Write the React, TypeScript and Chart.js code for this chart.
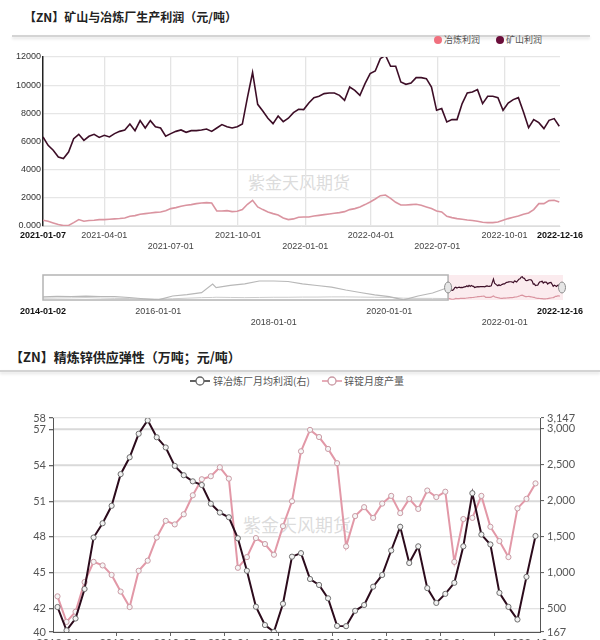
import React, { useEffect, useRef } from 'react';
import { Chart, registerables } from 'chart.js';

Chart.register(...registerables);

// ---------- Top chart: 矿山与冶炼厂生产利润 (weekly samples) ----------
const TOP_START = '2021-01-07';
const TOP_END = '2022-12-16';
const SAMPLE_STEP_DAYS = 7;
const topTickDates = ['2021-01-07', '2021-04-01', '2021-07-01', '2021-10-01', '2022-01-01', '2022-04-01', '2022-07-01', '2022-10-01', '2022-12-16'];
const topTickSecondRow = ['2021-07-01', '2022-01-01', '2022-07-01'];
const topYTicks = [0, 2000, 4000, 6000, 8000, 10000, 12000];

const mineProfit = [
  6320, 5730, 5375, 4900, 4790, 5250, 6200, 6510, 6085, 6370,
  6510, 6290, 6440, 6320, 6560, 6720, 6820, 7240, 6770, 7480,
  6960, 7480, 7050, 6960, 6370, 6560, 6720, 6820, 6650, 6770,
  6770, 6820, 6890, 6720, 6960, 7200, 7050, 6960, 7050, 7240,
  9130, 10900, 8640, 8170, 7650, 7270, 7810, 7410, 7650, 8050,
  8290, 8265, 8730, 9115, 9210, 9400, 9445, 9445, 9280, 8925,
  9870, 9635, 9280, 10110, 10820, 11005, 11885, 12120, 11340, 11340,
  10225, 10060, 10155, 10535, 10535, 10465, 9870, 8215, 8335, 7385,
  7555, 7555, 8690, 9445, 9515, 9685, 8690, 9210, 9210, 9115,
  8215, 8730, 8975, 9115, 8095, 6985, 7555, 7340, 6915, 7505,
  7625, 7080,
];
const smelterProfit = [
  405, 335, 215, 100, 30, 40, 240, 455, 335, 390,
  405, 455, 455, 480, 505, 528, 570, 690, 735, 830,
  880, 925, 970, 995, 1090, 1235, 1305, 1400, 1470, 1520,
  1590, 1635, 1660, 1635, 1065, 1065, 1090, 1020, 1045, 1165,
  1540, 1825, 1350, 1165, 995, 880, 785, 570, 455, 505,
  620, 640, 640, 710, 755, 805, 855, 900, 950, 1020,
  1165, 1235, 1350, 1520, 1705, 1920, 2155, 2200, 1965, 1685,
  1490, 1490, 1520, 1540, 1470, 1350, 1235, 1065, 995, 690,
  595, 525, 480, 430, 390, 335, 265, 240, 240, 285,
  405, 525, 620, 710, 830, 925, 1165, 1590, 1590, 1800,
  1825, 1700,
];

// ---------- Navigator (2014 - 2022) ----------
const NAV_START = '2014-01-02';
const navTickDates = ['2014-01-02', '2016-01-01', '2018-01-01', '2020-01-01', '2022-01-01', '2022-12-16'];
const navTickSecondRow = ['2018-01-01', '2022-01-01'];
const navHistDates = [
  '2014-01-02', '2014-04-01', '2014-07-01', '2014-10-01', '2015-01-01', '2015-04-01', '2015-07-01', '2015-10-01',
  '2016-01-01', '2016-04-01', '2016-07-01', '2016-10-01', '2016-12-10', '2017-01-01', '2017-04-01', '2017-07-01',
  '2017-10-01', '2018-01-01', '2018-04-01', '2018-07-01', '2018-10-01', '2019-01-01', '2019-04-01', '2019-07-01',
  '2019-10-01', '2020-01-01', '2020-04-01', '2020-07-01', '2020-10-01', '2021-01-07',
];
const navHistMine = [
  1350, 1600, 1500, 1700, 1500, 1400, 970, 300,
  -350, 1780, 2530, 3550, 8240, 6240, 7480, 8340,
  9850, 9850, 9580, 8340, 7430, 6510, 5000, 3660,
  2420, 1400, -350, 1780, 3390, 6320,
];
const navHistSmelter = [
  600, 700, 800, 900, 700, 500, 400, 200,
  100, 300, 600, 900, 1000, 1100, 1000, 900,
  1000, 1100, 1100, 1200, 1200, 1300, 1300, 1200,
  1100, 1000, 600, 500, 500, 405,
];

// ---------- Bottom chart: 精炼锌供应弹性 (monthly) ----------
const months = [
  '2018-06', '2018-07', '2018-08', '2018-09', '2018-10', '2018-11', '2018-12',
  '2019-01', '2019-02', '2019-03', '2019-04', '2019-05', '2019-06', '2019-07', '2019-08', '2019-09', '2019-10', '2019-11', '2019-12',
  '2020-01', '2020-02', '2020-03', '2020-04', '2020-05', '2020-06', '2020-07', '2020-08', '2020-09', '2020-10', '2020-11', '2020-12',
  '2021-01', '2021-02', '2021-03', '2021-04', '2021-05', '2021-06', '2021-07', '2021-08', '2021-09', '2021-10', '2021-11', '2021-12',
  '2022-01', '2022-02', '2022-03', '2022-04', '2022-05', '2022-06', '2022-07', '2022-08', '2022-09', '2022-10', '2022-11',
];
const smelterMonthlyProfit = [
  515, 190, 355, 766, 1483, 1681, 1924,
  2365, 2600, 2927, 3115, 2879, 2737, 2480, 2350, 2265, 2214, 1953, 1830,
  1765, 1472, 1020, 519, 264, 170, 560, 1216, 1265, 905, 822, 636,
  252, 248, 462, 543, 798, 961, 1302, 1632, 1128, 1360, 778, 572,
  698, 852, 1360, 2100, 1524, 1386, 712, 517, 341, 935, 1504,
];
const zincOutput = [
  43.0, 40.85, 41.7, 44.2, 45.9, 45.6, 44.8,
  43.4, 42.1, 45.15, 46.0, 47.95, 49.35, 49.05, 49.9, 51.5, 52.85, 53.1, 53.85,
  52.9, 45.4, 46.3, 47.9, 47.4, 46.5, 48.9, 51.0, 55.2, 57.0, 56.4, 55.4,
  54.2, 47.2, 49.75, 50.5, 49.6, 50.8, 51.45, 50.0, 51.2, 50.35, 51.9, 51.35,
  51.8, 45.9, 49.5, 49.6, 51.45, 48.85, 47.65, 46.3, 50.4, 51.2, 52.5,
];
const monthTickLabels = ['2018-06', '2019-01', '2019-07', '2020-01', '2020-07', '2021-01', '2021-07', '2022-01', '2022-10'];
const monthTickMarks = ['2019-01', '2019-07', '2020-01', '2020-07', '2021-01', '2021-07', '2022-01', '2022-07'];
const leftTicks = [40, 42, 45, 48, 51, 54, 57, 58];
const rightTicks = [167, 500, 1000, 1500, 2000, 2500, 3000, 3147];

// ---------- helpers ----------
const DAY_MS = 86400000;
const dayDiff = (a: string, b: string) => Math.round((Date.parse(b) - Date.parse(a)) / DAY_MS);
const LAT = '"Liberation Sans", Arial, sans-serif';
const CJK = '"Noto Sans CJK SC", "Noto Sans", sans-serif';
const LATO = 'Lato, "Open Sans", sans-serif';

const MINE_COLOR = '#3d0e27';
const SMELT_COLOR = 'rgb(218,148,160)';

const weekly = (arr: number[], offset: number) => arr.map((v, k) => ({ x: offset + k * SAMPLE_STEP_DAYS, y: v }));

function topConfig(): any {
  const span = dayDiff(TOP_START, TOP_END);
  const tickDays = topTickDates.map((d) => dayDiff(TOP_START, d));
  const last = topTickDates.length - 1;
  return {
    type: 'line',
    data: {
      datasets: [
        { label: '矿山利润', data: weekly(mineProfit, 0), borderColor: MINE_COLOR, borderWidth: 1.6, pointRadius: 0, tension: 0 },
        { label: '冶炼利润', data: weekly(smelterProfit, 0), borderColor: SMELT_COLOR, borderWidth: 1.6, pointRadius: 0, tension: 0 },
      ],
    },
    options: {
      responsive: false,
      animation: false,
      layout: { padding: { left: 0, right: 40, top: 12, bottom: 0 } },
      plugins: { legend: { display: false }, tooltip: { enabled: false } },
      scales: {
        x: {
          type: 'linear',
          min: 0,
          max: span,
          afterBuildTicks: (s: any) => { s.ticks = tickDays.map((v) => ({ value: v })); },
          afterFit: (s: any) => { s.height = 34; },
          ticks: {
            autoSkip: false,
            maxRotation: 0,
            padding: 4.6,
            color: (c: any) => (c.index === 0 || c.index === last ? '#111' : '#444'),
            font: (c: any) => ({ family: LAT, size: 9, weight: c.index === 0 || c.index === last ? 'bold' : 'normal' }),
            callback: (_v: any, i: number) => {
              const label = topTickDates[i];
              return topTickSecondRow.includes(label) ? ['', label] : label;
            },
          },
          grid: {
            drawTicks: false,
            lineWidth: 1.3,
            color: (c: any) => (c.index === 0 || c.index === last ? 'rgba(0,0,0,0)' : '#e4e4e4'),
          },
          border: { display: true, color: '#dddddd', width: 1 },
        },
        y: {
          min: 0,
          max: 12000,
          afterBuildTicks: (s: any) => { s.ticks = topYTicks.map((v) => ({ value: v })); },
          afterFit: (s: any) => { s.width = 43; },
          ticks: {
            padding: 2,
            color: '#333',
            font: { family: LAT, size: 9 },
            callback: (v: any) => (v === 0 ? '0.000' : String(v)),
          },
          grid: { drawTicks: false, color: '#e6e6e6', lineWidth: 1.2 },
          border: { display: true, color: '#222', width: 1.5 },
        },
      },
    },
  };
}

function navConfig(): any {
  const span = dayDiff(NAV_START, TOP_END);
  const selStart = dayDiff(NAV_START, TOP_START);
  const tickDays = navTickDates.map((d) => dayDiff(NAV_START, d));
  const last = navTickDates.length - 1;
  const navPlugin = {
    id: 'navWindow',
    beforeDatasetsDraw(chart: any) {
      const { ctx, chartArea: a, scales } = chart;
      const sx = scales.x.getPixelForValue(selStart);
      ctx.save();
      ctx.fillStyle = 'rgba(249,226,231,0.7)';
      ctx.fillRect(sx, a.top, a.right + 3 - sx, a.bottom - a.top);
      ctx.restore();
    },
    afterDatasetsDraw(chart: any) {
      const { ctx, chartArea: a, scales } = chart;
      const sx = scales.x.getPixelForValue(selStart);
      ctx.save();
      ctx.strokeStyle = '#b4b4b4';
      ctx.lineWidth = 1.5;
      ctx.strokeRect(a.left, a.top, sx - a.left, a.bottom - a.top);
      const cy = (a.top + a.bottom) / 2;
      [sx, a.right + 2].forEach((hx) => {
        ctx.beginPath();
        ctx.ellipse(hx, cy, 3.5, 5.5, 0, 0, Math.PI * 2);
        ctx.fillStyle = '#e6e6e6';
        ctx.fill();
        ctx.strokeStyle = '#8a8a8a';
        ctx.lineWidth = 1;
        ctx.stroke();
      });
      ctx.restore();
    },
  };
  const hist = (arr: number[]) => arr.map((v, i) => ({ x: dayDiff(NAV_START, navHistDates[i]), y: v }));
  return {
    type: 'line',
    data: {
      datasets: [
        { data: hist(navHistMine), borderColor: '#b8b8b8', borderWidth: 1.2, pointRadius: 0 },
        { data: hist(navHistSmelter), borderColor: '#cccccc', borderWidth: 1, pointRadius: 0 },
        { data: weekly(mineProfit, selStart), borderColor: MINE_COLOR, borderWidth: 1.2, pointRadius: 0 },
        { data: weekly(smelterProfit, selStart), borderColor: SMELT_COLOR, borderWidth: 1.2, pointRadius: 0 },
      ],
    },
    options: {
      responsive: false,
      animation: false,
      layout: { padding: { left: 43, right: 40, top: 13, bottom: 0 } },
      plugins: { legend: { display: false }, tooltip: { enabled: false } },
      scales: {
        x: {
          type: 'linear',
          min: 0,
          max: span,
          afterBuildTicks: (s: any) => { s.ticks = tickDays.map((v) => ({ value: v })); },
          afterFit: (s: any) => { s.height = 32; },
          ticks: {
            autoSkip: false,
            maxRotation: 0,
            padding: 6.6,
            color: (c: any) => (c.index === 0 || c.index === last ? '#111' : '#444'),
            font: (c: any) => ({ family: LAT, size: 9, weight: c.index === 0 || c.index === last ? 'bold' : 'normal' }),
            callback: (_v: any, i: number) => {
              const label = navTickDates[i];
              return navTickSecondRow.includes(label) ? ['', label] : label;
            },
          },
          grid: { display: false, drawTicks: false },
          border: { display: false },
        },
        y: { display: false, min: -377, max: 13080 },
      },
    },
    plugins: [navPlugin],
  };
}

function bottomConfig(): any {
  const markIdx = monthTickMarks.map((m) => months.indexOf(m));
  return {
    type: 'line',
    data: {
      labels: months,
      datasets: [
        {
          label: '锌冶炼厂月均利润(右)',
          data: smelterMonthlyProfit,
          yAxisID: 'y1',
          borderColor: '#2c0b1c',
          borderWidth: 2,
          pointRadius: 2.6,
          pointBackgroundColor: '#f2f2f2',
          pointBorderColor: '#6e6e6e',
          pointBorderWidth: 1,
          tension: 0,
        },
        {
          label: '锌锭月度产量',
          data: zincOutput,
          yAxisID: 'y',
          borderColor: 'rgb(226,152,167)',
          borderWidth: 2,
          pointRadius: 2.6,
          pointBackgroundColor: '#f6f6f6',
          pointBorderColor: '#c99aa4',
          pointBorderWidth: 1,
          tension: 0,
        },
      ],
    },
    options: {
      responsive: false,
      animation: false,
      layout: { padding: { left: 0, right: 0, top: 18, bottom: 0 } },
      plugins: { legend: { display: false }, tooltip: { enabled: false } },
      scales: {
        x: {
          type: 'category',
          offset: true,
          afterFit: (s: any) => { s.height = 28; },
          ticks: {
            autoSkip: false,
            maxRotation: 0,
            padding: 1,
            color: '#555',
            font: { family: LATO, size: 11 },
            callback: (_v: any, i: number) => (monthTickLabels.includes(months[i]) ? months[i] : ''),
          },
          grid: {
            offset: true,
            drawOnChartArea: false,
            tickLength: 4,
            color: (c: any) => (markIdx.includes(c.index) ? '#666' : 'rgba(0,0,0,0)'),
          },
          border: { display: true, color: '#555', width: 1 },
        },
        y: {
          position: 'left',
          min: 40,
          max: 58,
          afterBuildTicks: (s: any) => { s.ticks = leftTicks.map((v) => ({ value: v })); },
          afterFit: (s: any) => { s.width = 53; },
          ticks: { padding: 3, color: '#555', font: { family: LATO, size: 11 } },
          grid: { color: '#d9d9d9', lineWidth: 1.3, tickLength: 4, tickColor: '#666' },
          border: { display: true, color: '#555', width: 1 },
        },
        y1: {
          position: 'right',
          min: 167,
          max: 3147,
          afterBuildTicks: (s: any) => { s.ticks = rightTicks.map((v) => ({ value: v })); },
          afterFit: (s: any) => { s.width = 60; },
          ticks: {
            padding: 3,
            color: '#555',
            font: { family: LATO, size: 11 },
            callback: (v: any) => Number(v).toLocaleString('en-US'),
          },
          grid: { color: '#e2e2e2', lineWidth: 1.1, tickLength: 4, tickColor: '#666' },
          border: { display: true, color: '#555', width: 1 },
        },
      },
    },
  };
}

const abs = (style: React.CSSProperties): React.CSSProperties => ({ position: 'absolute', ...style });

function LineMarker({ left, top, line, ring }: { left: number; top: number; line: string; ring: string }) {
  return (
    <svg width={20} height={12} style={abs({ left, top })}>
      <line x1={0} y1={6} x2={20} y2={6} stroke={line} strokeWidth={1.6} />
      <circle cx={10} cy={6} r={4} fill="#ffffff" stroke={ring} strokeWidth={1.3} />
    </svg>
  );
}

export default function App() {
  const topRef = useRef<HTMLCanvasElement>(null);
  const navRef = useRef<HTMLCanvasElement>(null);
  const botRef = useRef<HTMLCanvasElement>(null);

  useEffect(() => {
    const charts: Chart[] = [];
    if (topRef.current) charts.push(new Chart(topRef.current, topConfig()));
    if (navRef.current) charts.push(new Chart(navRef.current, navConfig()));
    if (botRef.current) charts.push(new Chart(botRef.current, bottomConfig()));
    return () => charts.forEach((c) => c.destroy());
  }, []);

  return (
    <div style={{ position: 'fixed', left: 0, top: 0, width: 600, height: 640, overflow: 'hidden', background: '#ffffff' }}>
      {/* Top section */}
      <div style={abs({ left: 24, top: 9, fontFamily: CJK, fontSize: 12, lineHeight: '16px', fontWeight: 'bold', color: '#222', whiteSpace: 'nowrap' })}>
        【ZN】矿山与冶炼厂生产利润（元/吨）
      </div>
      <div style={abs({ left: 12, top: 35, width: 578, height: 2, background: '#d4d4d4', boxShadow: '0 2px 3px rgba(0,0,0,0.12)' })} />
      <div style={abs({ left: 434, top: 36, width: 8, height: 8, borderRadius: 4, background: '#f0707e' })} />
      <div style={abs({ left: 444, top: 33, fontFamily: CJK, fontSize: 9, lineHeight: '14px', color: '#555', whiteSpace: 'nowrap' })}>冶炼利润</div>
      <div style={abs({ left: 496, top: 36, width: 8, height: 8, borderRadius: 4, background: '#6a0d3a' })} />
      <div style={abs({ left: 506, top: 33, fontFamily: CJK, fontSize: 9, lineHeight: '14px', color: '#555', whiteSpace: 'nowrap' })}>矿山利润</div>
      <div style={abs({ left: 248, top: 171, fontFamily: CJK, fontSize: 17, lineHeight: '22px', color: 'rgba(190,190,190,0.55)', whiteSpace: 'nowrap' })}>紫金天风期货</div>
      <canvas ref={topRef} width={600} height={215} style={abs({ left: 0, top: 45, width: 600, height: 215 })} />
      <canvas ref={navRef} width={600} height={70} style={abs({ left: 0, top: 262, width: 600, height: 70 })} />

      {/* Bottom section */}
      <div style={abs({ left: 10, top: 349, fontFamily: CJK, fontSize: 13, lineHeight: '16px', fontWeight: 'bold', color: '#222', whiteSpace: 'nowrap' })}>
        【ZN】精炼锌供应弹性（万吨；元/吨）
      </div>
      <div style={abs({ left: 0, top: 370, width: 600, height: 2, background: '#d4d4d4', boxShadow: '0 2px 3px rgba(0,0,0,0.12)' })} />
      <LineMarker left={190} top={375} line="#3a3a3a" ring="#666666" />
      <div style={abs({ left: 213, top: 374, fontFamily: CJK, fontSize: 10, lineHeight: '14px', color: '#555', whiteSpace: 'nowrap' })}>锌冶炼厂月均利润(右)</div>
      <LineMarker left={322} top={375} line="rgb(226,152,167)" ring="#c99aa4" />
      <div style={abs({ left: 344, top: 374, fontFamily: CJK, fontSize: 10, lineHeight: '14px', color: '#555', whiteSpace: 'nowrap' })}>锌锭月度产量</div>
      <div style={abs({ left: 243, top: 512, fontFamily: CJK, fontSize: 18, lineHeight: '24px', color: 'rgba(190,190,190,0.55)', whiteSpace: 'nowrap' })}>紫金天风期货</div>
      <canvas ref={botRef} width={600} height={260} style={abs({ left: 0, top: 400, width: 600, height: 260 })} />
    </div>
  );
}
